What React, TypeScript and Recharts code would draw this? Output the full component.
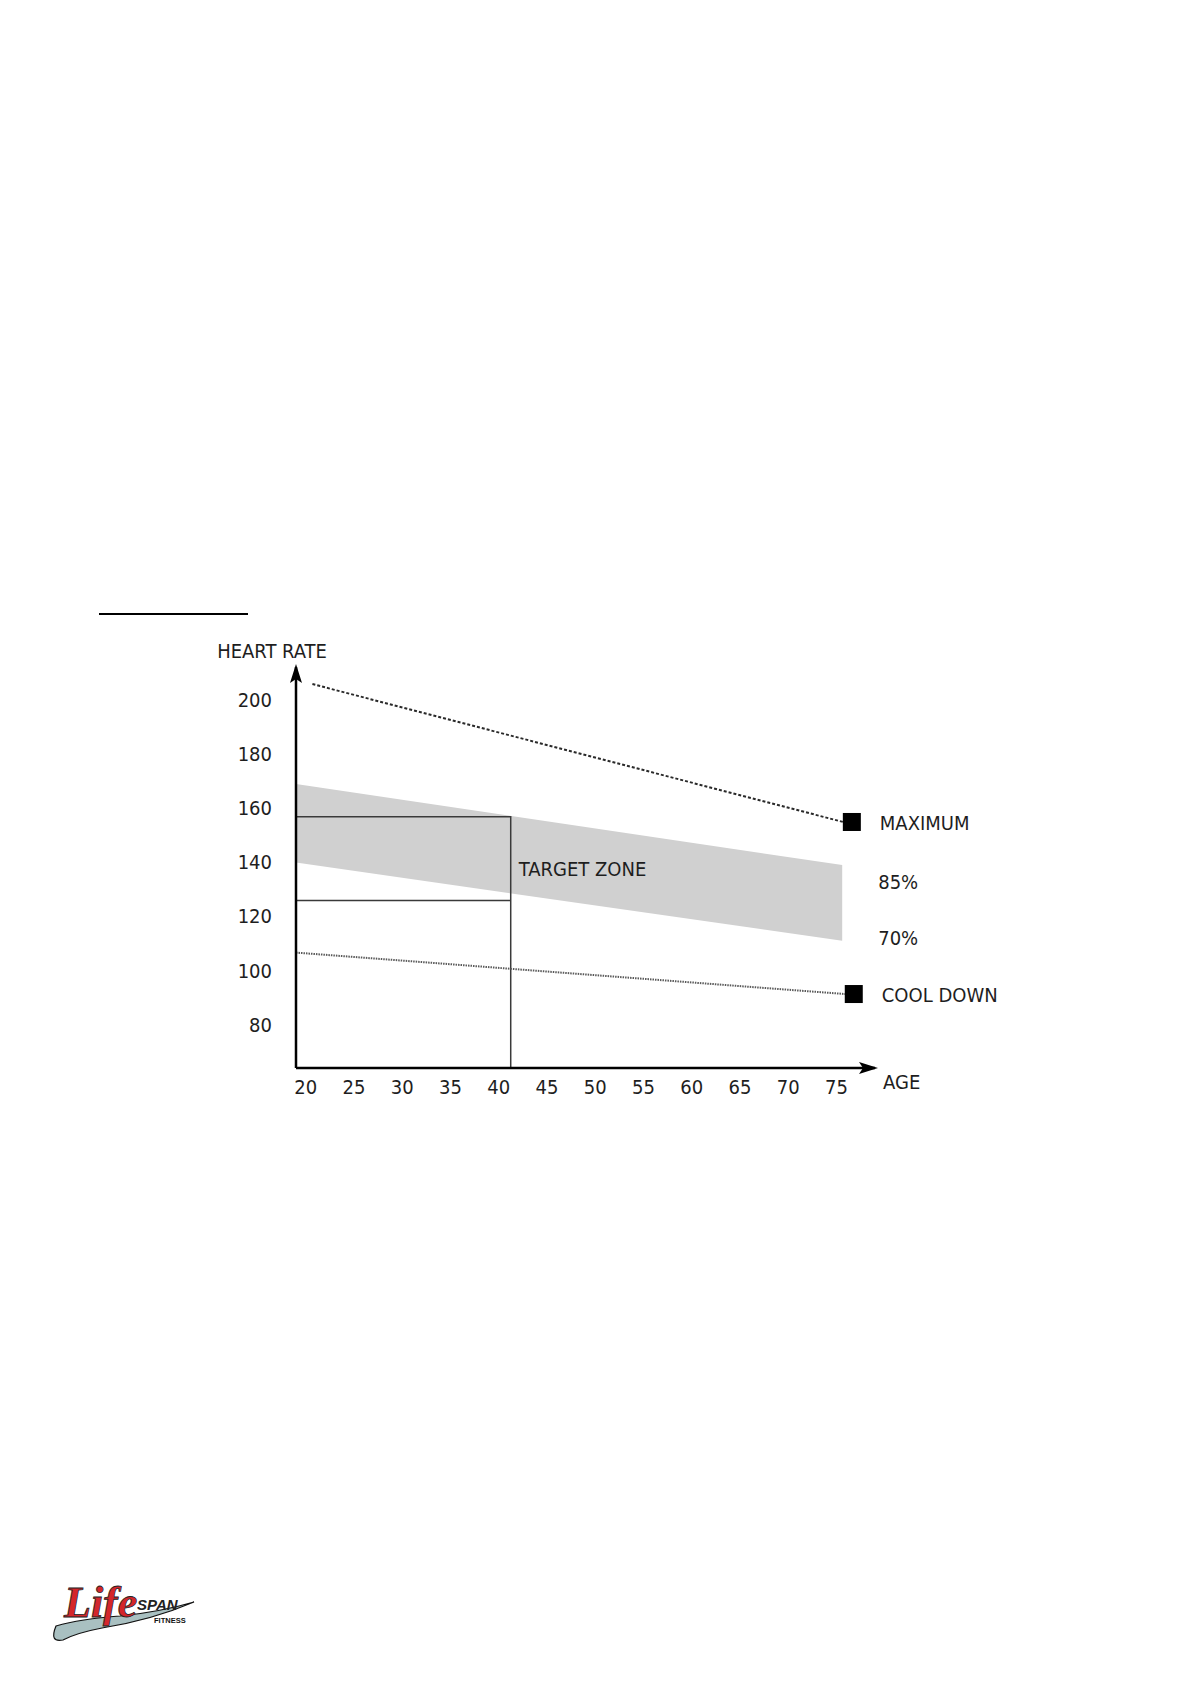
import React from "react";
import { ComposedChart, Area, Line, XAxis, YAxis, ReferenceDot } from "recharts";

const FONT = "'Liberation Sans Narrow', 'DejaVu Sans Condensed', 'Arial Narrow', sans-serif";
const INK = "#1e1e1e";

const AGE_TICKS = [20, 25, 30, 35, 40, 45, 50, 55, 60, 65, 70, 75];
const HR_TICKS = [80, 100, 120, 140, 160, 180, 200];
const AGE_DOMAIN = [19, 79];
const HR_DOMAIN = [64, 212];

// maximum heart rate (dotted line)
const MAX_AGES = [20.7, 75.7];
const MAX_HR = [205.7, 154.8];

// target zone band, 85% on top, 70% below
const BAND_AGES = [19, 75.6];
const BAND_85 = [168.8, 138.9];
const BAND_70 = [139.8, 111.0];

// cool down line
const COOL_AGES = [19, 75.9];
const COOL_HR = [106.6, 91.3];

// the example box for a 40ish year old
const ZONE_AGES = [19, 41.25, 41.25];
const ZONE_TOP = [156.7, 156.7, 64];
const ZONE_LOW_AGES = [19, 41.25];
const ZONE_LOW = [125.8, 125.8];

const MARKER_AGES = [76.6, 76.8];
const MARKER_HR = [154.8, 91.3];
const MARKER_LABELS = ["MAXIMUM", "COOL DOWN"];

const toPoints = (ages: number[], hr: number[]) =>
  ages.map((age, i) => ({ age, hr: hr[i] }));

const bandData = BAND_AGES.map((age, i) => ({ age, band: [BAND_70[i], BAND_85[i]] }));

const textStyle = { fontFamily: FONT, fontSize: 20, fill: INK };

function Logo() {
  return (
    <svg
      width={180}
      height={120}
      style={{ position: "absolute", left: 40, top: 1560 }}
    >
      <path
        d="M 16 66 Q 40 59 80 56 Q 120 52 154 42 Q 112 60 62 68 Q 36 73 23 80 Q 9 83 16 66 Z"
        fill="#a9c0c1"
        stroke="#111"
        strokeWidth={1.2}
      />
      <text
        x={24}
        y={57}
        fontFamily="'Liberation Serif', serif"
        fontStyle="italic"
        fontWeight="bold"
        fontSize={44}
        fill="#d4262b"
        stroke="#222"
        strokeWidth={0.8}
      >
        Life
      </text>
      <text
        x={97}
        y={50}
        fontFamily="'Liberation Sans', sans-serif"
        fontStyle="italic"
        fontWeight="bold"
        fontSize={15}
        fill="#222"
      >
        SPAN
      </text>
      <text
        x={114}
        y={63}
        fontFamily="'Liberation Sans', sans-serif"
        fontWeight="bold"
        fontSize={7.5}
        fill="#111"
      >
        FITNESS
      </text>
    </svg>
  );
}

export default function App() {
  return (
    <div
      style={{
        position: "absolute",
        left: 0,
        top: 0,
        width: 1192,
        height: 1685,
        background: "#fff",
        overflow: "hidden",
      }}
    >
      <div
        style={{
          position: "absolute",
          left: 99,
          top: 613,
          width: 149,
          height: 2,
          background: "#000",
        }}
      />
      <div style={{ position: "absolute", left: 200, top: 600 }}>
        <ComposedChart
          width={860}
          height={520}
          margin={{ top: 67, right: 185, bottom: 12, left: 16 }}
        >
          <XAxis
            type="number"
            dataKey="age"
            domain={AGE_DOMAIN}
            allowDataOverflow
            ticks={AGE_TICKS}
            interval={0}
            height={40}
            tickLine={false}
            tickSize={0}
            tickMargin={12}
            axisLine={{ stroke: "#000", strokeWidth: 2.5 }}
            tick={textStyle}
          />
          <YAxis
            type="number"
            dataKey="hr"
            domain={HR_DOMAIN}
            allowDataOverflow
            ticks={HR_TICKS}
            interval={0}
            width={80}
            tickLine={false}
            tickSize={0}
            tickMargin={24}
            axisLine={{ stroke: "#000", strokeWidth: 2.5 }}
            tick={textStyle}
          />
          <Area
            data={bandData}
            dataKey="band"
            type="linear"
            stroke="none"
            fill="#d0d0d0"
            fillOpacity={1}
            isAnimationActive={false}
          />
          <Line
            data={toPoints(ZONE_AGES, ZONE_TOP)}
            dataKey="hr"
            type="linear"
            stroke="#3a3a3a"
            strokeWidth={1.5}
            dot={false}
            activeDot={false}
            isAnimationActive={false}
          />
          <Line
            data={toPoints(ZONE_LOW_AGES, ZONE_LOW)}
            dataKey="hr"
            type="linear"
            stroke="#3a3a3a"
            strokeWidth={1.5}
            dot={false}
            activeDot={false}
            isAnimationActive={false}
          />
          <Line
            data={toPoints(MAX_AGES, MAX_HR)}
            dataKey="hr"
            type="linear"
            stroke="#2a2a2a"
            strokeWidth={2}
            strokeDasharray="3 2"
            dot={false}
            activeDot={false}
            isAnimationActive={false}
          />
          <Line
            data={toPoints(COOL_AGES, COOL_HR)}
            dataKey="hr"
            type="linear"
            stroke="#5a5a5a"
            strokeWidth={2}
            strokeDasharray="1.5 1"
            dot={false}
            activeDot={false}
            isAnimationActive={false}
          />
          {MARKER_AGES.map((age, i) => (
            <ReferenceDot
              key={MARKER_LABELS[i]}
              x={age}
              y={MARKER_HR[i]}
              r={9}
              ifOverflow="visible"
              shape={(p: any) => (
                <g>
                  <rect x={p.cx - 9} y={p.cy - 9} width={18} height={18} fill="#000" />
                  <text x={p.cx + 28} y={p.cy + 8} {...textStyle}>
                    {MARKER_LABELS[i]}
                  </text>
                </g>
              )}
            />
          ))}
          <ReferenceDot
            x={BAND_AGES[1]}
            y={BAND_85[1]}
            r={0}
            ifOverflow="visible"
            shape={(p: any) => (
              <text x={p.cx + 36} y={p.cy + 24} {...textStyle}>
                85%
              </text>
            )}
          />
          <ReferenceDot
            x={BAND_AGES[1]}
            y={BAND_70[1]}
            r={0}
            ifOverflow="visible"
            shape={(p: any) => (
              <text x={p.cx + 36} y={p.cy + 4} {...textStyle}>
                70%
              </text>
            )}
          />
          <ReferenceDot
            x={ZONE_AGES[1]}
            y={ZONE_LOW[1]}
            r={0}
            ifOverflow="visible"
            shape={(p: any) => (
              <text x={p.cx + 8} y={p.cy - 25} {...textStyle}>
                TARGET ZONE
              </text>
            )}
          />
          <ReferenceDot
            x={AGE_DOMAIN[0]}
            y={HR_DOMAIN[1]}
            r={0}
            ifOverflow="visible"
            shape={(p: any) => (
              <g>
                <polygon
                  points={`${p.cx},${p.cy - 3} ${p.cx - 6},${p.cy + 16} ${p.cx},${p.cy + 12} ${p.cx + 6},${p.cy + 16}`}
                  fill="#000"
                />
                <text x={p.cx - 24} y={p.cy - 9} textAnchor="middle" {...textStyle}>
                  HEART RATE
                </text>
              </g>
            )}
          />
          <ReferenceDot
            x={AGE_DOMAIN[1]}
            y={HR_DOMAIN[0]}
            r={0}
            ifOverflow="visible"
            shape={(p: any) => (
              <g>
                <polygon
                  points={`${p.cx + 3},${p.cy} ${p.cx - 16},${p.cy - 6} ${p.cx - 12},${p.cy} ${p.cx - 16},${p.cy + 6}`}
                  fill="#000"
                />
                <text x={p.cx + 8} y={p.cy + 21} {...textStyle}>
                  AGE
                </text>
              </g>
            )}
          />
        </ComposedChart>
      </div>
      <Logo />
    </div>
  );
}
